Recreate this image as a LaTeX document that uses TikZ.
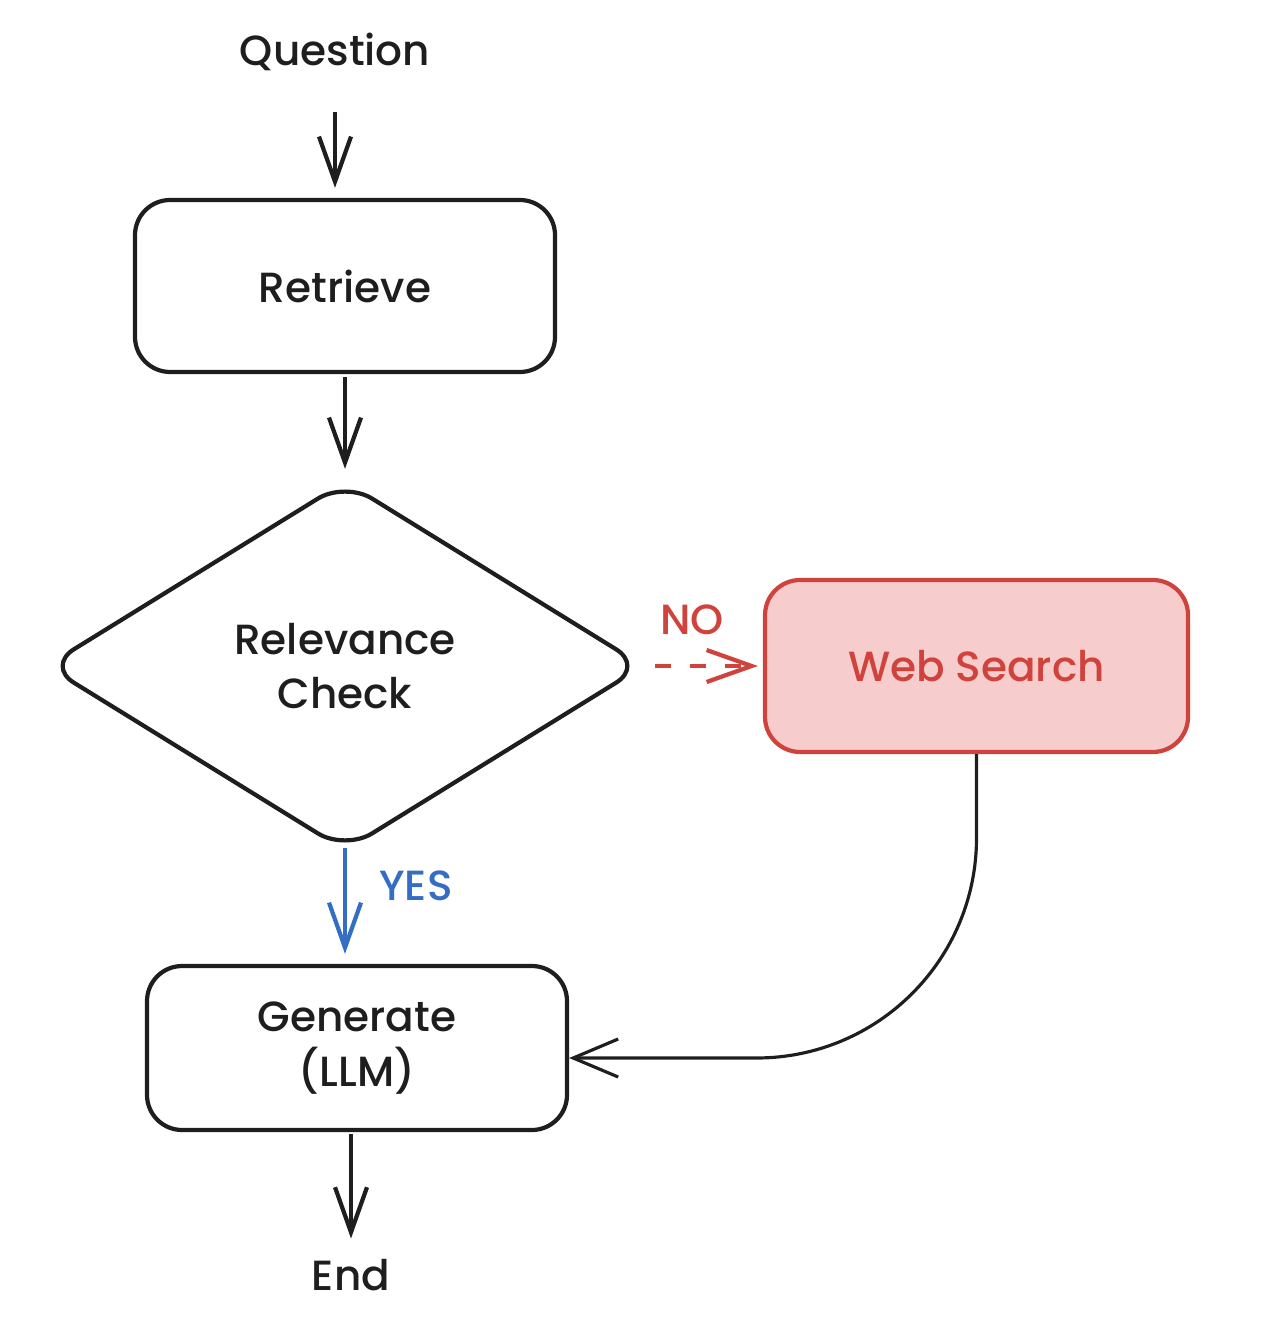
\documentclass[tikz,border=0pt]{standalone}
\usepackage{fontspec}
\setmainfont{Poppins}[UprightFont={* Medium}]
\usetikzlibrary{arrows.meta,shapes.geometric}
\definecolor{ink}{RGB}{30,30,30}
\definecolor{wsred}{RGB}{208,66,60}
\definecolor{wsfill}{RGB}{247,204,204}
\definecolor{yesblue}{RGB}{52,110,196}

\begin{document}
\begin{tikzpicture}[
    font=\fontsize{12}{15.5}\selectfont,
    text=ink,
    box/.style={draw=ink,line width=1.2pt,rounded corners=10pt,align=center,
                minimum width=4.2cm,minimum height=1.72cm},
    decision/.style={diamond,draw=ink,line width=1.2pt,rounded corners=9pt,
                align=center,minimum width=5.98cm,minimum height=3.7cm,
                aspect=1.61,inner sep=0pt},
    arr/.style={-{Straight Barb[length=4.5mm,width=3.2mm]},line width=1.2pt,
                draw=ink,shorten >=1mm},
    thinarr/.style={-{Straight Barb[length=4.5mm,width=3.8mm]},line width=0.9pt,
                draw=ink},
    lbl/.style={inner sep=0pt}
  ]
    \useasboundingbox (0,0) rectangle (12.62,-13.26);
    \node[lbl] (question) at (3.35,-0.52) {Question};
    \node[box] (retrieve) at (3.45,-2.86) {Retrieve};
    \node[decision] (check) at (3.45,-6.66) {Relevance\\Check};
    \node[box,draw=wsred,fill=wsfill,text=wsred,minimum width=4.23cm]
      (websearch) at (9.765,-6.66) {Web Search};
    \node[box,minimum height=1.64cm] (generate) at (3.57,-10.48) {Generate\\(LLM)};
    \node[lbl] (end) at (3.51,-12.75) {End};
    \node[lbl,text=wsred] (no) at (6.92,-6.20) {NO};
    \node[lbl,text=yesblue] (yes) at (4.16,-8.86) {YES};
    \draw[arr,shorten <=4mm] (question.south) -- (question.south |- retrieve.north);
    \draw[arr,shorten <=0.3mm] (retrieve) -- (check);
    \draw[arr,draw=wsred,dash pattern=on 4.5pt off 5.5pt,shorten <=0.9mm,
          shorten >=0.5mm] (check) -- (websearch);
    \draw[arr,draw=yesblue,shorten <=-0.5mm] (check) -- (check.south |- generate.north);
    \draw[thinarr,rounded corners=2.2cm] (websearch.south)
      |- ([yshift=-1mm]generate.east);
    \draw[arr,shorten <=0.2mm,shorten >=2mm] (generate.south -| end.north) -- (end);
  \end{tikzpicture}
\end{document}
